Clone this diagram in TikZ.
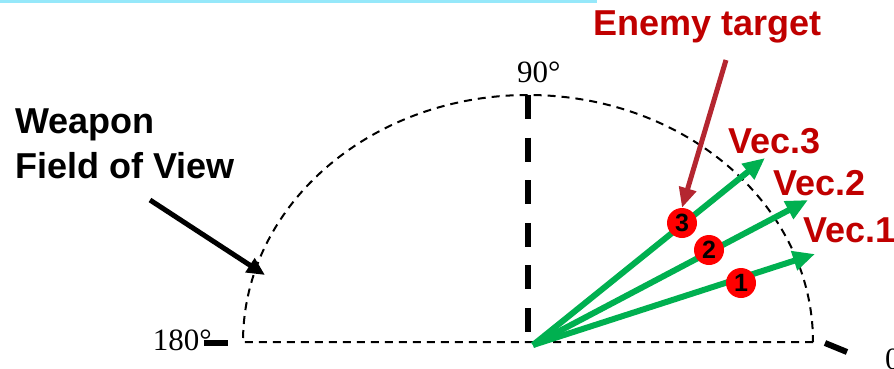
\documentclass[tikz,border=0pt]{standalone}
\usepackage{fontspec}
\setmainfont{Liberation Serif}
\setsansfont{Liberation Sans}
\usetikzlibrary{arrows.meta}
\definecolor{vert}{RGB}{0,176,80}
\definecolor{rougevec}{RGB}{192,0,0}
\definecolor{brique}{RGB}{180,38,48}
\definecolor{bandeau}{RGB}{150,232,250}

\begin{document}
\begin{tikzpicture}[x=1pt, y=1pt,
    gras/.style={font=\sffamily\bfseries\fontsize{36}{45}\selectfont, inner sep=0pt},
    degre/.style={font=\fontsize{31}{36}\selectfont, inner sep=0pt},
    pastille/.style={circle, fill=red, minimum size=30pt, inner sep=0pt,
        font=\sffamily\bfseries\fontsize{25}{25}\selectfont},
    vecteur/.style={vert, line width=6pt, -{Triangle[length=22pt, width=19pt]}},
    tiret/.style={line width=6pt}]
    \useasboundingbox (-528,-26) rectangle (366,342);
    % Bandeau
    \fill[bandeau] (-528,339) rectangle (69,342);
    % Champ de vision
    \draw[line width=2pt, dash pattern=on 8pt off 6pt] (285,0) -- (-285,0)
        arc[start angle=180, end angle=0, x radius=285, y radius=247];
    \draw[line width=6pt, dash pattern=on 24pt off 18.6pt] (0,247) -- (0,0);
    % Graduations
    \draw[tiret] (-324,-1) -- (-300,-1);
    \draw[tiret] (297,-1) -- (319,-10);
    \node[degre, anchor=base east] (d180) at (-316,-8) {180°};
    \node[degre, anchor=base west] (d90) at (-11,260) {90°};
    \node[degre, anchor=base west] (d0) at (357,-27) {0°};
    % Vecteurs
    \coordinate (w) at (5,-3);
    \coordinate (t1) at (287,88);
    \coordinate (t2) at (280,142);
    \coordinate (t3) at (237,184);
    \draw[vecteur] (w) -- (t1);
    \draw[vecteur] (w) -- (t2);
    \draw[vecteur] (w) -- (t3);
    \node[pastille] (p1) at (213,59) {1};
    \node[pastille] (p2) at (181,92) {2};
    \node[pastille] (p3) at (154,119) {3};
    \node[gras, rougevec, anchor=base west] (l1) at (275,100) {Vec.1};
    \node[gras, rougevec, anchor=base west] (l2) at (245,147) {Vec.2};
    \node[gras, rougevec, anchor=base west] (l3) at (200,189) {Vec.3};
    % Cible
    \node[gras, rougevec, anchor=base west] (ennemi) at (65,307) {Enemy target};
    \coordinate (ennemi-q) at (198,282);
    \draw[brique, line width=5pt, -{Triangle[length=20pt, width=17pt]}] (ennemi-q) -- (p3.north);
    % Arme
    \node[gras, anchor=north west, align=left] (arme) at (-513,233) {Weapon\\Field of View};
    \coordinate (arme-q) at (-378,142);
    \coordinate (arme-p) at (-263,67);
    \draw[line width=5pt, -{Triangle[length=18pt, width=16pt]}] (arme-q) -- (arme-p);
\end{tikzpicture}
\end{document}
